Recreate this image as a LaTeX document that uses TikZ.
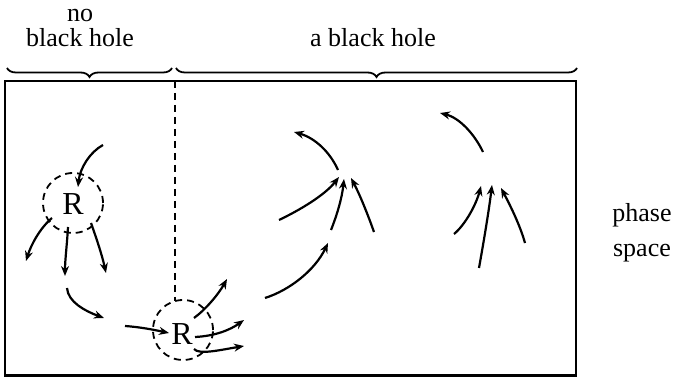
\documentclass[tikz,border=0pt]{standalone}
\usepackage{fontspec}
\setmainfont{Liberation Serif}
\usetikzlibrary{arrows.meta,decorations.pathreplacing}
\begin{document}
\begin{tikzpicture}[x=1pt,y=-1pt,
  traj/.style={line width=2.2pt,-{Stealth[length=10pt,width=8pt]}},
  region/.style={line width=1.8pt,dash pattern=on 7pt off 5pt,circle,minimum size=60pt,inner sep=0pt},
  lbl/.style={font=\fontsize{26}{30}\selectfont,inner sep=0pt,anchor=base},
  rlbl/.style={font=\fontsize{32}{34}\selectfont,inner sep=0pt},
  brc/.style={line width=1.8pt,decorate,decoration={brace,amplitude=9pt,mirror}}]
\useasboundingbox (0,0) rectangle (673,377);
% frame
\draw[line width=2.2pt] (5,81) rectangle (576,375.5);
% braces
\draw[brc] (7,68) -- (172,68);
\draw[brc] (176,68) -- (577,68);
\node[lbl] (no) at (80,22) {no};
\node[lbl] (nbh) at (80,47) {black hole};
\node[lbl] (abh) at (373,47) {a black hole};
\node[lbl] (ph) at (642,222) {phase};
\node[lbl] (sp) at (642,257) {space};
% regions
\node[region,draw] (R1) at (73,203) {};
\node[rlbl] (r1) at (73,204) {R};
\node[region,draw] (R2) at (183,330) {};
\node[rlbl] (r2) at (182,334) {R};
% horizon line
\coordinate (top) at (175,81);
\coordinate (bot) at (175,301.2);
\draw[line width=2pt,dash pattern=on 7pt off 5pt] (top) -- (bot);
% trajectories near R1
\draw[traj] (103,145) .. controls (90,152) and (80,168) .. (78,187);
\draw[traj] (52,218) .. controls (40,228) and (31,245) .. (26,261);
\draw[traj] (68,227) .. controls (67,245) and (65,260) .. (65,276);
\draw[traj] (91,223) .. controls (97,240) and (102,255) .. (106,273);
\draw[traj] (67,288) .. controls (68,302) and (85,311) .. (104,318);
% trajectories near R2
\draw[traj] (125,326) .. controls (140,327) and (155,330) .. (169,333);
\draw[traj] (194,318) .. controls (205,310) and (218,295) .. (227,279);
\draw[traj] (195,337) .. controls (215,336) and (230,330) .. (244,320);
\draw[traj] (194,349) .. controls (199,355) and (220,350) .. (244,346);
% first converging group
\draw[traj] (265,298) .. controls (290,290) and (315,270) .. (328,243);
\draw[traj] (279,220) .. controls (300,210) and (325,195) .. (339,177);
\draw[traj] (331,230) .. controls (337,215) and (342,198) .. (344,179);
\draw[traj] (374,232) .. controls (368,215) and (360,195) .. (351,178);
\draw[traj] (338,170) .. controls (330,152) and (315,138) .. (294,132);
% second converging group
\draw[traj] (454,234) .. controls (465,225) and (476,205) .. (481,186);
\draw[traj] (479,268) .. controls (484,240) and (489,210) .. (492,185);
\draw[traj] (525,243) .. controls (520,225) and (510,205) .. (501,188);
\draw[traj] (483,152) .. controls (475,135) and (460,118) .. (440,113);
\end{tikzpicture}
\end{document}
